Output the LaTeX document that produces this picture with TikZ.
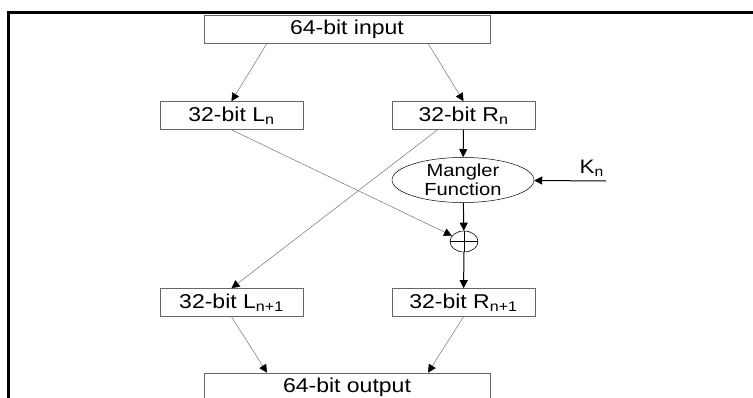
\documentclass[tikz,border=0pt]{standalone}
\usepackage{fontspec}
\setmainfont{Liberation Sans}[FakeStretch=1.15]
\usepackage{tikz}
\usetikzlibrary{arrows.meta, shapes.geometric}

\begin{document}
\begin{tikzpicture}[x=1pt, y=-1pt, >={Triangle[length=8pt, width=8pt, color=black, fill=black]},
      blk/.style={draw=black!60, line width=0.6pt, minimum height=28pt, inner sep=0pt, font=\fontsize{20}{22}\selectfont},
      half/.style={blk, minimum width=143pt},
      full/.style={blk, minimum width=286pt},
      mang/.style={draw, ellipse, line width=0.5pt, minimum width=142pt, minimum height=44pt, inner sep=0pt, align=center, font=\fontsize{17.5}{19}\selectfont},
      xorop/.style={draw, ellipse, line width=0.6pt, minimum width=28pt, minimum height=21pt, inner sep=0pt},
      link/.style={->, draw=black!55, line width=0.5pt},
      flow/.style={->, black, line width=1pt}]

    \path[use as bounding box, clip] (0,0) rectangle (753,398);

    % frame (only top and left edges show)
    \draw[line width=3pt] (8.5,400) -- (8.5,12.5) -- (755,12.5);

    \node[full] (inp)  at (347, 29)    {64-bit input};
    \node[half] (ln)   at (231.5, 115.5) {32-bit L\textsubscript{n}};
    \node[half] (rn)   at (463.5, 115.5) {32-bit R\textsubscript{n}};
    \node[mang] (mfun) at (463, 180)   {Mangler\\Function};
    \coordinate (kin) at (606, 181);
    \node[anchor=south east, inner sep=1pt, font=\fontsize{19.5}{21}\selectfont] (klbl) at (605, 178) {K\textsubscript{n}};
    \node[xorop] (xor) at (464, 241.5) {};
    \node[half] (ln1)  at (231.5, 302.5) {32-bit L\textsubscript{n+1}};
    \node[half] (rn1)  at (463.5, 302.5) {32-bit R\textsubscript{n+1}};
    \node[full] (outp) at (347, 387)   {64-bit output};

    \draw[line width=0.5pt] (xor.north) -- (xor.south) (xor.west) -- (xor.east);

    \draw[link] ([xshift=-80pt]inp.south) -- (ln.north);
    \draw[link] ([xshift=81pt]inp.south) -- (rn.north);
    \draw[flow] (rn) -- (mfun);
    \draw[flow] (kin) -- (mfun);
    \draw[flow] (mfun) -- (xor);
    \draw[flow] (xor) -- (rn1);

    % the swap
    \draw[link] (ln.south) -- (xor);
    \draw[link] ([xshift=-26pt]rn.south) -- (ln1.north);

    \draw[link] (ln1.south) -- ([xshift=-80pt]outp.north);
    \draw[link] (rn1.south) -- ([xshift=81pt]outp.north);

\end{tikzpicture}
\end{document}
